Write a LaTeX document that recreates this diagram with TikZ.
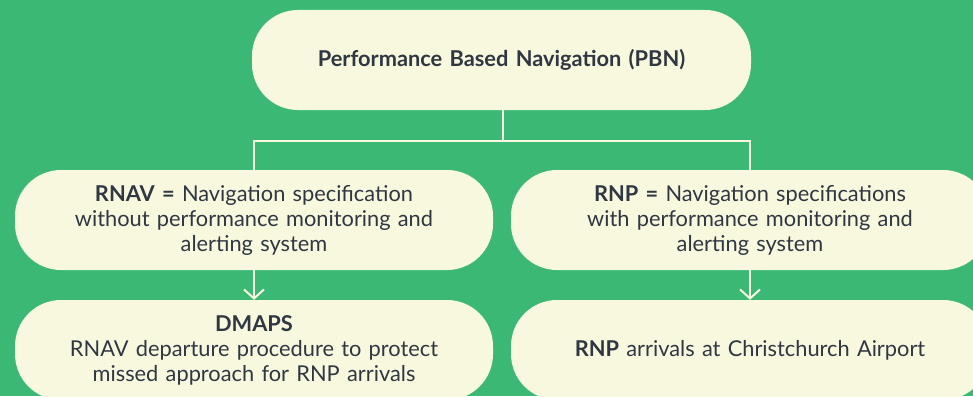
\documentclass[tikz,border=0pt]{standalone}
\usepackage{fontspec}
\setmainfont{Lato}
\usepackage{xcolor}
\usepackage{tikz}
\usetikzlibrary{positioning}
\usetikzlibrary{arrows.meta}
\definecolor{pbngreen}{HTML}{3AB874}
\definecolor{pbncream}{HTML}{F8F8DF}
\definecolor{pbntext}{HTML}{2F3742}
\tikzset{
  pill/.style={draw=none,fill=pbncream,rounded corners=46pt,
    minimum width=478pt,minimum height=100pt,text width=450pt,
    align=center,font=\fontsize{21.8}{25}\selectfont,text=pbntext},
  link/.style={draw=pbncream,line width=2pt},
}

\begin{document}
\begin{tikzpicture}[x=1pt,y=-1pt]
            % background and page size
            \fill[pbngreen] (0,0) rectangle (973,396);
            \useasboundingbox (0,0) rectangle (973,396);
            \node[pill,minimum width=499pt] (pbn) at (501.5,60) {\textbf{Performance Based Navigation (PBN)}};
            \node[pill] (rnav) at (254,220) {\textbf{RNAV =} Navigation specification\\without performance monitoring and\\alerting system};
            \node[pill] (rnp) at (750,220) {\textbf{RNP =} Navigation specifications\\with performance monitoring and\\alerting system};
            \node[pill] (dmaps) at (254,350) {\textbf{DMAPS}\\RNAV departure procedure to protect\\missed approach for RNP arrivals};
            \node[pill] (arr) at (750,350) {\textbf{RNP} arrivals at Christchurch Airport};
            \coordinate (split) at (503,141);
            \draw[link] (pbn.south -| split) -- (split);
            \draw[link] (split) -| (rnav.north);
            \draw[link] (split) -| (rnp.north);
            \draw[link,-{Straight Barb[length=9pt,width=20pt]}] (rnav) -- (dmaps);
            \draw[link,-{Straight Barb[length=9pt,width=20pt]}] (rnp) -- (arr);
\end{tikzpicture}
\end{document}
